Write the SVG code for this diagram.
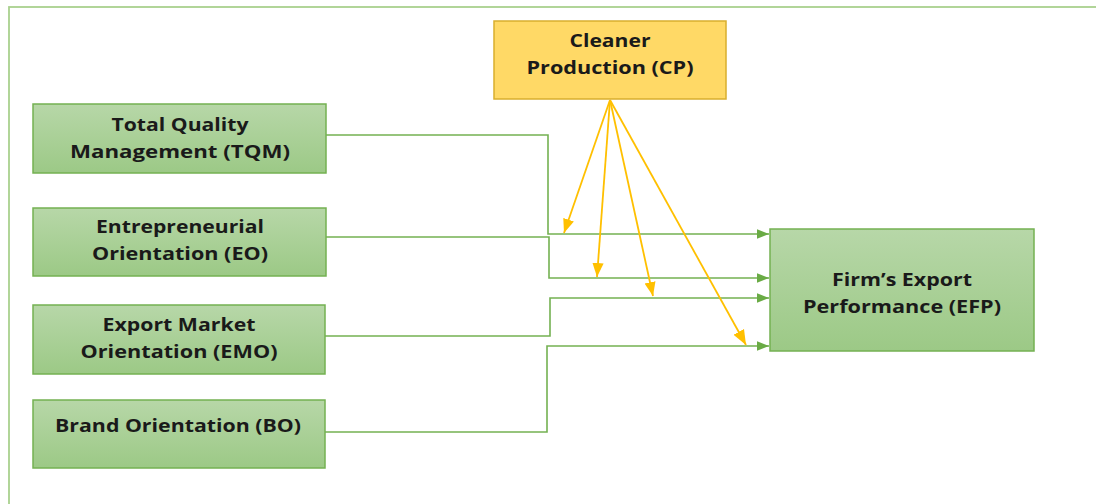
<svg xmlns="http://www.w3.org/2000/svg" width="1096" height="504" viewBox="0 0 1096 504">
<defs>
<linearGradient id="g" x1="0" y1="0" x2="0" y2="1">
<stop offset="0" stop-color="#B7D7A8"/>
<stop offset="1" stop-color="#9CC986"/>
</linearGradient>
<marker id="ag" viewBox="0 0 10 8" refX="10" refY="4" markerWidth="12" markerHeight="10" markerUnits="userSpaceOnUse" orient="auto">
<path d="M0,0 L10,4 L0,8 Z" fill="#6AAB45"/>
</marker>
<marker id="ay" viewBox="0 0 10 8" refX="10" refY="4" markerWidth="14" markerHeight="12" markerUnits="userSpaceOnUse" orient="auto">
<path d="M0,0 L10,4 L0,8 Z" fill="#FFC000"/>
</marker>
<marker id="ay2" viewBox="0 0 10 8" refX="10" refY="4" markerWidth="15" markerHeight="13" markerUnits="userSpaceOnUse" orient="auto">
<path d="M0,0 L10,4 L0,8 Z" fill="#FFC000"/>
</marker>
</defs>
<style>
.n{fill:url(#g);stroke:#74B152;stroke-width:1.5}
.cp{fill:#FFD966;stroke:#D9AE2E;stroke-width:1.5}
.t{font-family:"Open Sans",Lato,sans-serif;font-weight:bold;font-size:18px;fill:#1A1A1A;text-anchor:middle}
.c{fill:none;stroke:#74B152;stroke-width:1.6}
.y{fill:none;stroke:#FFC000;stroke-width:1.8}
</style>
<rect x="9" y="7" width="1100" height="510" fill="none" stroke="#A9D18E" stroke-width="1.8"/>
<g id="connectors">
<polyline class="c" points="326,135 548,135 548,234 769,234" marker-end="url(#ag)"/>
<polyline class="c" points="326,237 549,237 549,278 769,278" marker-end="url(#ag)"/>
<polyline class="c" points="325,336 550,336 550,298 769,298" marker-end="url(#ag)"/>
<polyline class="c" points="325,432 547,432 547,346 769,346" marker-end="url(#ag)"/>
<line class="y" x1="610" y1="100" x2="564" y2="233" marker-end="url(#ay)"/>
<line class="y" x1="610" y1="100" x2="597" y2="277" marker-end="url(#ay)"/>
<line class="y" x1="610" y1="100" x2="653" y2="296" marker-end="url(#ay)"/>
<line class="y" x1="610" y1="100" x2="746" y2="345" stroke-width="2.8" marker-end="url(#ay2)"/>
</g>
<g id="cp">
<rect class="cp" x="494" y="21" width="232" height="78"/>
<text class="t" x="610" y="47" textLength="81" lengthAdjust="spacingAndGlyphs">Cleaner</text>
<text class="t" x="610" y="74" textLength="167" lengthAdjust="spacingAndGlyphs">Production (CP)</text>
</g>
<g id="tqm">
<rect class="n" x="33" y="104" width="293" height="69"/>
<text class="t" x="180" y="131" textLength="137" lengthAdjust="spacingAndGlyphs">Total Quality</text>
<text class="t" x="180" y="158" textLength="220" lengthAdjust="spacingAndGlyphs">Management (TQM)</text>
</g>
<g id="eo">
<rect class="n" x="33" y="208" width="293" height="68"/>
<text class="t" x="180" y="233" textLength="168" lengthAdjust="spacingAndGlyphs">Entrepreneurial</text>
<text class="t" x="180" y="260" textLength="176" lengthAdjust="spacingAndGlyphs">Orientation (EO)</text>
</g>
<g id="emo">
<rect class="n" x="33" y="305" width="292" height="69"/>
<text class="t" x="179" y="331" textLength="153" lengthAdjust="spacingAndGlyphs">Export Market</text>
<text class="t" x="179" y="358" textLength="197" lengthAdjust="spacingAndGlyphs">Orientation (EMO)</text>
</g>
<g id="bo">
<rect class="n" x="33" y="400" width="292" height="68"/>
<text class="t" x="178" y="432" textLength="246" lengthAdjust="spacingAndGlyphs">Brand Orientation (BO)</text>
</g>
<g id="efp">
<rect class="n" x="770" y="229" width="264" height="122"/>
<text class="t" x="902" y="286" textLength="140" lengthAdjust="spacingAndGlyphs">Firm’s Export</text>
<text class="t" x="902" y="313" textLength="198" lengthAdjust="spacingAndGlyphs">Performance (EFP)</text>
</g>
</svg>
